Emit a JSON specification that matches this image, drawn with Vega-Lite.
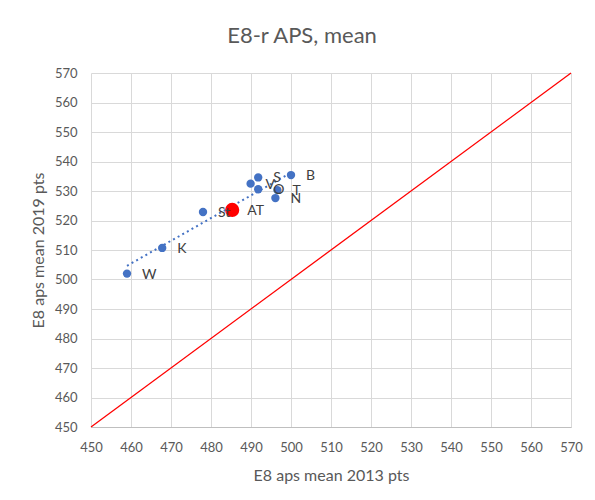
{
  "$schema": "https://vega.github.io/schema/vega-lite/v6.json",
  "width": 480,
  "height": 354,
  "autosize": {"type": "none"},
  "padding": {"left": 91, "top": 73, "right": 24, "bottom": 73},
  "background": "white",
  "title": {"text": "E8-r APS, mean", "font": "Lato", "fontSize": 22, "fontWeight": "normal", "color": "#595959", "dx": -29, "offset": 19, "anchor": "middle"},
  "datasets": {
    "pts": [
      {"name": "W", "x": 459, "y": 502, "grp": "blue"},
      {"name": "K", "x": 467.8, "y": 510.7, "grp": "blue"},
      {"name": "St", "x": 478, "y": 522.9, "grp": "blue"},
      {"name": "V", "x": 489.9, "y": 532.5, "grp": "blue"},
      {"name": "S", "x": 491.8, "y": 534.6, "grp": "blue"},
      {"name": "O", "x": 491.8, "y": 530.6, "grp": "blue"},
      {"name": "T", "x": 496.6, "y": 530.3, "grp": "blue"},
      {"name": "N", "x": 496.1, "y": 527.6, "grp": "blue"},
      {"name": "B", "x": 500, "y": 535.4, "grp": "blue"},
      {"name": "AT", "x": 485.3, "y": 523.6, "grp": "red"}
    ],
    "diag": [
      {"x": 450, "y": 450},
      {"x": 570, "y": 570}
    ]
  },
  "encoding": {
    "x": {"field": "x", "type": "quantitative", "scale": {"domain": [450, 570], "nice": false, "zero": false},
      "axis": {"title": "E8 aps mean 2013 pts", "values": [450,460,470,480,490,500,510,520,530,540,550,560,570], "labelPadding": 14, "titlePadding": 13, "domain": true, "domainColor": "#bfbfbf"}},
    "y": {"field": "y", "type": "quantitative", "scale": {"domain": [450, 570], "nice": false, "zero": false},
      "axis": {"title": "E8 aps mean 2019 pts", "values": [450,460,470,480,490,500,510,520,530,540,550,560,570], "labelPadding": 14, "titlePadding": 8, "domain": false}}
  },
  "layer": [
    {"data": {"name": "diag"}, "mark": {"type": "line", "color": "#ff0000", "strokeWidth": 1.3}},
    {"data": {"name": "pts"},
     "transform": [{"filter": "datum.grp === 'blue'"}, {"regression": "y", "on": "x"}],
     "mark": {"type": "line", "color": "#4472c4", "strokeWidth": 2, "strokeDash": [2, 3.3]}},
    {"data": {"name": "pts"},
     "transform": [{"filter": "datum.grp === 'blue'"}],
     "mark": {"type": "circle", "color": "#4472c4", "size": 70, "opacity": 1}},
    {"data": {"name": "pts"},
     "transform": [{"filter": "datum.grp === 'red'"}],
     "mark": {"type": "circle", "color": "#ff0000", "size": 200, "opacity": 1}},
    {"data": {"name": "pts"},
     "mark": {"type": "text", "align": "left", "baseline": "middle", "dx": 15, "dy": 1, "font": "Lato", "fontSize": 14, "color": "#404040"},
     "encoding": {"text": {"field": "name"}}}
  ],
  "config": {
    "view": {"stroke": null},
    "axis": {"grid": true, "gridColor": "#d9d9d9", "gridWidth": 1, "ticks": false, "labelFlush": false, "labelOverlap": false, "labelFont": "Lato", "labelFontSize": 13, "labelColor": "#595959", "titleFont": "Lato", "titleFontSize": 16, "titleFontWeight": "normal", "titleColor": "#595959"}
  }
}
